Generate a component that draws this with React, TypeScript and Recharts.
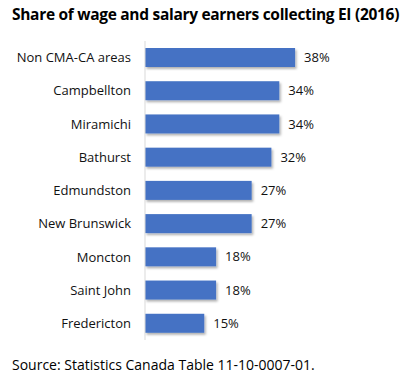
import React from 'react';
import { BarChart, Bar, XAxis, YAxis, LabelList } from 'recharts';

const areas = ['Non CMA-CA areas', 'Campbellton', 'Miramichi', 'Bathurst', 'Edmundston', 'New Brunswick', 'Moncton', 'Saint John', 'Fredericton'];
const shares = [38, 34, 34, 32, 27, 27, 18, 18, 15];

const chartData = areas.map((name, i) => ({ name, share: shares[i] }));

const FONT = '"Open Sans", "Noto Sans", sans-serif';

const ShadowBar = (props: any) => {
  const { x, y, width, height, fill } = props;
  return <rect x={x} y={y} width={width} height={height} fill={fill} filter="url(#barShadow)" />;
};

export default function App() {
  return (
    <div style={{ position: 'absolute', left: 0, top: 0, width: 416, height: 387, background: '#fff', fontFamily: FONT }}>
      <div style={{ position: 'absolute', left: 12, top: 3, fontSize: 15.5, fontWeight: 700, color: '#000', whiteSpace: 'nowrap', letterSpacing: -0.3 }}>
        Share of wage and salary earners collecting EI (2016)
      </div>
      <BarChart
        width={416}
        height={387}
        data={chartData}
        layout="vertical"
        margin={{ top: 41, right: 113, bottom: 47, left: 0 }}
      >
        <defs>
          <filter id="barShadow" x="-10%" y="-20%" width="130%" height="160%">
            <feDropShadow dx="1.5" dy="2" stdDeviation="1.2" floodColor="#000" floodOpacity="0.3" />
          </filter>
        </defs>
        <XAxis type="number" domain={[0, 40]} hide />
        <YAxis
          type="category"
          dataKey="name"
          width={145}
          axisLine={{ stroke: '#d9d9d9' }}
          tickLine={false}
          tickSize={0}
          tickMargin={14}
          tick={{ fill: '#111', fontSize: 13, fontFamily: FONT }}
        />
        <Bar dataKey="share" fill="#4472C4" barSize={19} isAnimationActive={false} shape={ShadowBar}>
          <LabelList
            dataKey="share"
            position="right"
            offset={9}
            formatter={(v: any) => `${v}%`}
            style={{ fill: '#111', fontSize: 13, fontFamily: FONT }}
          />
        </Bar>
      </BarChart>
      <div style={{ position: 'absolute', left: 12, top: 355, fontSize: 14, color: '#000', whiteSpace: 'nowrap' }}>
        Source: Statistics Canada Table 11-10-0007-01.
      </div>
    </div>
  );
}
